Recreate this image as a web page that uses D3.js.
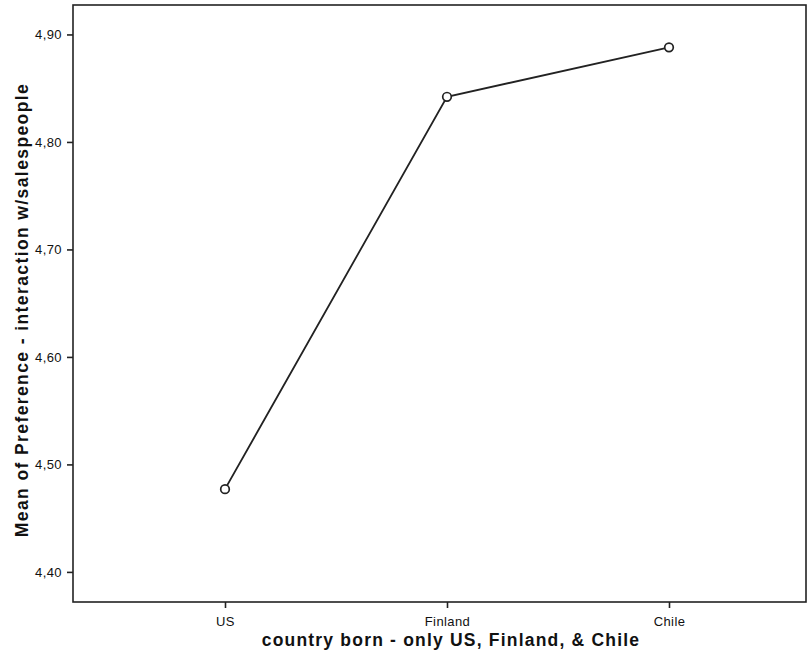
<!DOCTYPE html>
<html>
<head>
<meta charset="utf-8">
<script src="https://d3js.org/d3.v7.min.js"></script>
<style>
  body { margin: 0; background: #fff; }
  text { font-family: "Liberation Sans", Arial, sans-serif; fill: #111; }
</style>
</head>
<body>
<div id="chart"></div>
<script>
// Data
var countries = ["US", "Finland", "Chile"];
var meanPreference = [4.477, 4.842, 4.888];
var yTicks = [4.40, 4.50, 4.60, 4.70, 4.80, 4.90];

var svgWidth = 809;
var svgHeight = 661;

// Plot frame
var frame = { left: 73, top: 5, right: 806, bottom: 602 };

var svg = d3.select("#chart")
  .append("svg")
  .attr("width", svgWidth)
  .attr("height", svgHeight);

// Scales
var xScale = d3.scalePoint()
  .domain(countries)
  .range([225, 669]);

var yScale = d3.scaleLinear()
  .domain([4.372, 4.9274])
  .range([frame.bottom, frame.top]);

// Frame around the plot
svg.append("rect")
  .attr("x", frame.left)
  .attr("y", frame.top)
  .attr("width", frame.right - frame.left)
  .attr("height", frame.bottom - frame.top)
  .attr("fill", "none")
  .attr("stroke", "#222")
  .attr("stroke-width", 1.6);

// Axes
var leftAxis = d3.axisLeft(yScale)
  .tickValues(yTicks)
  .tickSize(6)
  .tickPadding(5)
  .tickFormat(d => d3.format(".2f")(d).replace(".", ","));

var bottomAxis = d3.axisBottom(xScale)
  .tickSize(6)
  .tickPadding(9);

var gy = svg.append("g")
  .attr("transform", `translate(${frame.left}, 0)`)
  .call(leftAxis);

var gx = svg.append("g")
  .attr("transform", `translate(0, ${frame.bottom})`)
  .call(bottomAxis);

[gx, gy].forEach(function(g) {
  g.select(".domain").remove();
  g.selectAll(".tick line").attr("stroke", "#222").attr("stroke-width", 1.6);
  g.selectAll(".tick text")
    .style("font-size", "13px")
    .style("letter-spacing", "0.4px")
    .attr("fill", "#111");
});

// Line
var data = countries.map((c, i) => ({ country: c, value: meanPreference[i] }));

var line = d3.line()
  .x(d => xScale(d.country))
  .y(d => yScale(d.value));

svg.append("path")
  .datum(data)
  .attr("d", line)
  .attr("fill", "none")
  .attr("stroke", "#222")
  .attr("stroke-width", 1.8);

svg.selectAll(".dot")
  .data(data)
  .enter()
  .append("circle")
  .attr("class", "dot")
  .attr("cx", d => xScale(d.country))
  .attr("cy", d => yScale(d.value))
  .attr("r", 4.3)
  .attr("fill", "#fff")
  .attr("stroke", "#222")
  .attr("stroke-width", 1.7);

// Axis titles
svg.append("text")
  .attr("x", 451)
  .attr("y", 646)
  .attr("text-anchor", "middle")
  .style("font-size", "17.5px")
  .style("font-weight", "bold")
  .style("letter-spacing", "1.2px")
  .text("country born - only US, Finland, & Chile");

svg.append("text")
  .attr("transform", "translate(28, 310) rotate(-90)")
  .attr("text-anchor", "middle")
  .style("font-size", "17.5px")
  .style("font-weight", "bold")
  .style("letter-spacing", "1.4px")
  .text("Mean of Preference - interaction w/salespeople");
</script>
</body>
</html>
